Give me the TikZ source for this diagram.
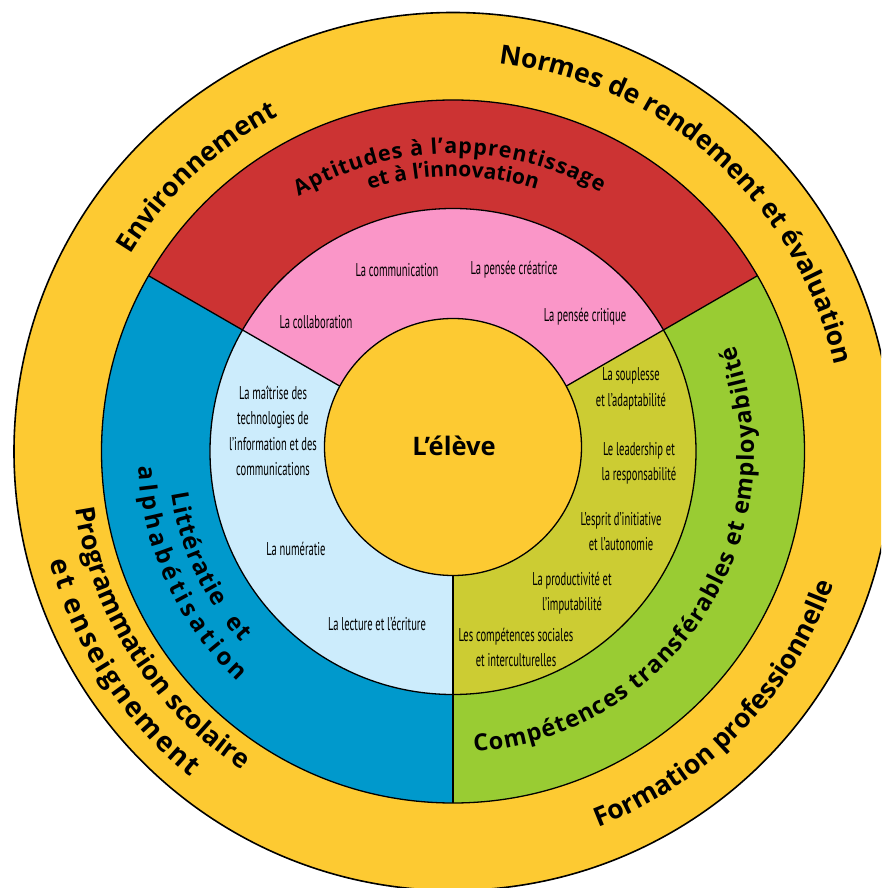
\documentclass[tikz,border=0pt]{standalone}
\usepackage{fontspec}
\setmainfont{Open Sans}
\newfontfamily\osb{Open Sans}
\newfontfamily\cond[FakeStretch=0.57]{PT Sans}
\usetikzlibrary{decorations.text}
\definecolor{ryellow}{RGB}{253,202,50}
\definecolor{rred}{RGB}{204,51,51}
\definecolor{rblue}{RGB}{0,153,204}
\definecolor{rgreen}{RGB}{153,204,51}
\definecolor{rpink}{RGB}{250,150,200}
\definecolor{rlblue}{RGB}{204,236,252}
\definecolor{rolive}{RGB}{204,204,51}
\newcommand\ofont{\osb\bfseries\fontsize{26.5}{30}\selectfont}
\newcommand\oofont{\osb\bfseries\fontsize{27.5}{30}\selectfont}
\newcommand\afont{\osb\bfseries\fontsize{21.5}{26}\selectfont}
\newcommand\bfontx{\osb\bfseries\fontsize{21}{26}\selectfont}
\newcommand\mfont{\osb\bfseries\fontsize{23.5}{26}\selectfont}
\newcommand\lfont{\osb\bfseries\fontsize{24}{26}\selectfont}
\tikzset{
  ring/.style={draw=black, line width=1.3pt},
  itext/.style={font=\cond\fontsize{18.5}{25.5}\selectfont, align=center, text=black, inner sep=0pt},
  ctext/.style={decorate, decoration={text along path, text align=center, text={#1}}},
  ftext/.style={decorate, decoration={text along path, text align=fit to path, text={#1}}}
}
\begin{document}
\begin{tikzpicture}[x=1pt,y=1pt]
\useasboundingbox (-453,-436.5) rectangle (428,451.5);
\clip (-453,-436.5) rectangle (428,451.5);
% outer ring
\fill[ryellow] (0,0) circle[radius=439pt];
\draw[line width=1.6pt] (0,0) circle[radius=439pt];
% middle ring sectors
\fill[rred] (0,0) -- (30:351.5pt) arc[start angle=30,end angle=150,radius=351.5pt] -- cycle;
\fill[rblue] (0,0) -- (150:351.5pt) arc[start angle=150,end angle=270,radius=351.5pt] -- cycle;
\fill[rgreen] (0,0) -- (270:351.5pt) arc[start angle=270,end angle=390,radius=351.5pt] -- cycle;
% inner ring sectors
\fill[rpink] (0,0) -- (30:243pt) arc[start angle=30,end angle=150,radius=243pt] -- cycle;
\fill[rlblue] (0,0) -- (150:243pt) arc[start angle=150,end angle=270,radius=243pt] -- cycle;
\fill[rolive] (0,0) -- (270:243pt) arc[start angle=270,end angle=390,radius=243pt] -- cycle;
\draw[ring] (0,0) circle[radius=351.5pt];
\draw[ring] (0,0) circle[radius=243pt];
\draw[ring] (0,0) -- (30:351.5pt);
\draw[ring] (0,0) -- (150:351.5pt);
\draw[ring] (0,0) -- (270:351.5pt);
% centre
\fill[ryellow] (0,4.5) circle[radius=128.5pt];
\draw[ring] (0,4.5) circle[radius=128.5pt];
\node[font=\osb\bfseries\fontsize{25.5}{28}\selectfont, inner sep=0pt] (eleve) at (1,5.5) {L’élève};

% outer ring labels
\path[ctext={|\ofont|Environnement}] (173:378pt) arc[start angle=173,end angle=93,radius=378pt];
\path[ctext={|\ofont|Normes de rendement et évaluation}] (103:391pt) arc[start angle=103,end angle=-7,radius=391pt];
\path[ctext={|\ofont|Formation professionnelle}] (-94:403pt) arc[start angle=-94,end angle=6,radius=403pt];
\path[ctext={|\ofont|Programmation scolaire}] (172:382pt) arc[start angle=172,end angle=253,radius=382pt];
\path[ftext={|\oofont|et enseignement}] (195.3:418pt) arc[start angle=195.3,end angle=231.2,radius=418pt];

% middle ring labels
\path[ftext={|\afont|Aptitudes à l’apprentissage}] (121.2:298pt) arc[start angle=121.2,end angle=60.3,radius=298pt];
\path[ctext={|\bfontx|et à l’innovation}] (130:275pt) arc[start angle=130,end angle=50,radius=275pt];
\path[ftext={|\mfont|Compétences transférables et employabilité}] (-86:301pt) arc[start angle=-86,end angle=20.7,radius=301pt];
\path[ftext={|\lfont|Littératie{\kern8pt} et}] (188.5:285pt) arc[start angle=188.5,end angle=222,radius=285pt];
\path[ftext={|\lfont|alphabétisation}] (182.8:315pt) arc[start angle=182.8,end angle=227,radius=315pt];

% inner ring items
\node[itext] (comm) at (-56,181.5) {La communication};
\node[itext] (crea) at (61,181.5) {La pensée créatrice};
\node[itext] (coll) at (-137,129.5) {La collaboration};
\node[itext] (crit) at (132,134.5) {La pensée critique};
\node[itext] (tic) at (-180,20.5) {La maîtrise des\\technologies de\\l’information et des\\communications};
\node[itext] (num) at (-157,-97.5) {La numératie};
\node[itext] (lect) at (-76,-172.5) {La lecture et l’écriture};
\node[itext] (soup) at (178,62.5) {La souplesse\\et l’adaptabilité};
\node[itext] (lead) at (186,-12) {Le leadership et\\la responsabilité};
\node[itext] (init) at (168,-80) {L’esprit d’initiative\\et l’autonomie};
\node[itext] (prod) at (119,-141.5) {La productivité et\\l’imputabilité};
\node[itext] (soc) at (63,-196) {Les compétences sociales\\et interculturelles};
\end{tikzpicture}
\end{document}
